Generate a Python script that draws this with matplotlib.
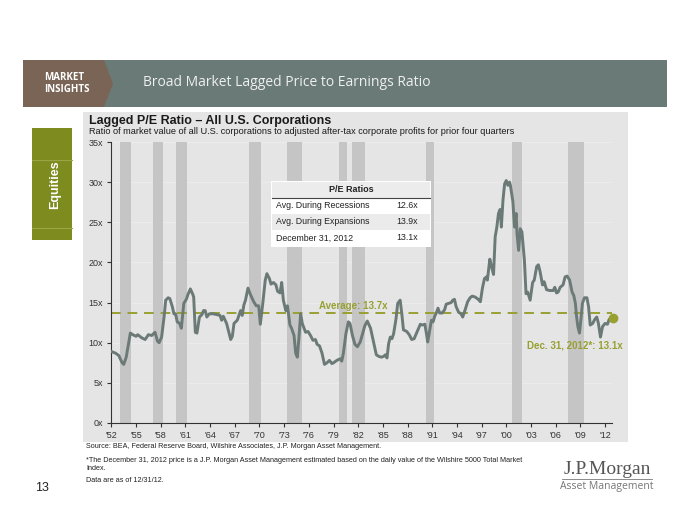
import numpy as np
import matplotlib
matplotlib.use('Agg')
from matplotlib import pyplot as plt
from matplotlib.patches import Rectangle, Polygon

plt.rcParams['font.family'] = ['Liberation Sans', 'DejaVu Sans']

# lagged P/E (decimal year, ratio)
years = [1952.0, 1952.5, 1952.9, 1953.3, 1953.5, 1953.8, 1954.3, 1954.6, 1955.0, 1955.2,
         1955.7, 1956.1, 1956.5, 1956.9, 1957.3, 1957.6, 1957.8, 1958.1, 1958.4, 1958.6,
         1958.9, 1959.1, 1959.4, 1959.6, 1959.8, 1960.0, 1960.3, 1960.5, 1960.8, 1961.1,
         1961.3, 1961.6, 1961.9, 1962.0, 1962.2, 1962.4, 1962.7, 1963.0, 1963.2, 1963.4,
         1963.6, 1963.9, 1964.4, 1964.8, 1965.2, 1965.4, 1965.6, 1966.0, 1966.5, 1966.7,
         1966.9, 1967.3, 1967.7, 1967.9, 1968.1, 1968.3, 1968.6, 1968.9, 1969.3, 1969.6,
         1969.9, 1970.1, 1970.4, 1970.7, 1970.9, 1971.2, 1971.4, 1971.7, 1972.0, 1972.2,
         1972.5, 1972.7, 1972.9, 1973.2, 1973.4, 1973.7, 1973.9, 1974.2, 1974.4, 1974.6,
         1974.8, 1975.0, 1975.2, 1975.6, 1975.9, 1976.2, 1976.5, 1976.8, 1977.0, 1977.3,
         1977.6, 1977.9, 1978.2, 1978.5, 1978.8, 1979.0, 1979.4, 1979.8, 1980.0, 1980.2,
         1980.5, 1980.8, 1981.0, 1981.3, 1981.6, 1981.9, 1982.25, 1982.5, 1982.8, 1983.1,
         1983.5, 1983.9, 1984.2, 1984.5, 1984.8, 1985.1, 1985.3, 1985.5, 1985.7, 1985.9,
         1986.1, 1986.3, 1986.6, 1986.8, 1987.1, 1987.3, 1987.5, 1987.9, 1988.2, 1988.5,
         1988.8, 1989.25, 1989.55, 1989.8, 1990.1, 1990.3, 1990.45, 1990.7, 1990.9, 1991.1,
         1991.3, 1991.45, 1991.7, 1991.9, 1992.2, 1992.5, 1992.7, 1993.0, 1993.3, 1993.5,
         1993.7, 1993.9, 1994.2, 1994.5, 1994.7, 1995.0, 1995.3, 1995.6, 1995.85, 1996.2,
         1996.6, 1996.85, 1997.1, 1997.35, 1997.6, 1997.7, 1998.0, 1998.2, 1998.45, 1998.65,
         1998.85, 1999.05, 1999.25, 1999.4, 1999.6, 1999.8, 2000.0, 2000.2, 2000.4, 2000.5,
         2000.8, 2001.0, 2001.2, 2001.3, 2001.5, 2001.7, 2001.9, 2002.2, 2002.4, 2002.6,
         2002.9, 2003.2, 2003.4, 2003.7, 2003.9, 2004.1, 2004.4, 2004.6, 2004.9, 2005.3,
         2005.7, 2005.9, 2006.1, 2006.3, 2006.55, 2006.9, 2007.15, 2007.4, 2007.7, 2008.0,
         2008.2, 2008.4, 2008.55, 2008.7, 2008.9, 2009.1, 2009.25, 2009.5, 2009.8, 2010.0,
         2010.2, 2010.5, 2010.75, 2011.0, 2011.2, 2011.45, 2011.7, 2012.0, 2012.3, 2012.5,
         2012.75, 2013.0]
pe = [8.9, 8.7, 8.4, 7.5, 7.3, 8.2, 11.2, 11.0, 10.8, 11.0,
      10.6, 10.4, 11.0, 10.9, 11.3, 10.2, 10.0, 10.7, 13.2, 15.3,
      15.6, 15.5, 14.5, 13.6, 13.6, 12.6, 12.4, 11.8, 14.9, 15.4,
      16.0, 16.7, 16.0, 15.7, 11.3, 11.2, 13.2, 13.5, 14.0, 14.0,
      13.2, 13.6, 13.6, 13.5, 13.4, 12.8, 13.3, 12.4, 10.4, 10.8,
      12.4, 12.8, 14.0, 13.4, 14.7, 15.3, 16.8, 16.0, 15.1, 14.6,
      14.6, 12.3, 14.9, 17.8, 18.6, 18.0, 17.3, 17.5, 17.2, 16.4,
      16.2, 17.5, 15.3, 14.0, 14.6, 12.2, 11.8, 10.9, 8.7, 8.2,
      10.7, 13.6, 12.4, 11.3, 11.4, 10.9, 10.3, 10.4, 9.8, 9.6,
      8.7, 7.3, 7.5, 7.8, 7.4, 7.5, 7.8, 8.0, 7.7, 8.7,
      11.1, 12.6, 12.4, 10.9, 9.8, 9.5, 10.1, 11.0, 12.1, 12.7,
      11.8, 9.9, 8.5, 8.3, 8.2, 8.3, 8.5, 8.1, 9.9, 10.7,
      10.5, 11.1, 13.0, 14.9, 15.3, 13.6, 11.6, 11.4, 11.0, 10.4,
      10.5, 11.6, 12.3, 12.2, 12.3, 11.1, 10.1, 11.6, 12.8, 12.6,
      13.3, 13.6, 14.3, 13.7, 13.7, 14.1, 14.8, 14.9, 15.0, 15.3,
      15.4, 14.5, 13.8, 13.6, 13.2, 14.1, 15.1, 15.6, 15.8, 15.7,
      15.4, 15.1, 16.8, 18.0, 18.2, 17.8, 20.4, 19.5, 18.5, 23.2,
      24.4, 26.1, 26.6, 24.4, 27.8, 29.8, 30.2, 29.6, 30.0, 29.6,
      27.6, 24.4, 26.1, 23.6, 21.5, 24.2, 23.8, 20.3, 16.1, 16.3,
      15.3, 17.5, 17.8, 19.5, 19.7, 18.9, 17.2, 17.6, 16.6, 16.5,
      16.5, 16.9, 16.2, 16.3, 16.9, 17.2, 18.2, 18.3, 17.8, 16.3,
      15.9, 14.9, 13.2, 12.0, 11.2, 13.2, 14.9, 15.6, 15.6, 14.5,
      12.2, 12.4, 12.9, 13.2, 12.4, 10.7, 12.0, 12.4, 12.3, 12.9,
      13.1, 13.1]

# recession shading (start, end)
recessions = [(1953.1, 1954.4), (1957.1, 1958.3), (1959.9, 1961.15), (1968.7, 1970.15),
              (1973.4, 1975.15), (1979.7, 1980.6), (1981.25, 1982.85), (1990.2, 1991.2),
              (2000.75, 2001.95), (2007.5, 2009.45)]

average = 13.7
latest = 13.1
xticks = list(range(1952, 2013, 3))
xlabels = ["'{:02d}".format(y % 100) for y in xticks]
yticks = list(range(0, 36, 5))
ylabels = ['{}x'.format(v) for v in yticks]

table_rows = [('Avg. During Recessions', '12.6x'),
              ('Avg. During Expansions', '13.9x'),
              ('December 31, 2012', '13.1x')]

W, H = 700, 525
line_color = '#6b7a77'
olive = '#98a032'


def fx(px):
    return px / W


def fy(py):
    return 1 - py / H


fig = plt.figure(figsize=(7, 5.25), dpi=100)
fig.patch.set_facecolor('white')

# header band
fig.patches.append(Rectangle((fx(23), fy(107)), fx(667) - fx(23), fy(60) - fy(107),
                             transform=fig.transFigure, facecolor='#6a7a76', edgecolor='none'))
fig.patches.append(Polygon([(fx(23), fy(60)), (fx(104), fy(60)), (fx(113), fy(83.5)),
                            (fx(104), fy(107)), (fx(23), fy(107))],
                           closed=True, transform=fig.transFigure, facecolor='#7a6456', edgecolor='none'))
fig.text(fx(44), fy(77), 'MARKET', color='white', fontsize=7, fontweight='bold',
         family=['Open Sans', 'DejaVu Sans'], va='center')
fig.text(fx(44), fy(89), 'INSIGHTS', color='white', fontsize=7, fontweight='bold',
         family=['Open Sans', 'DejaVu Sans'], va='center')
fig.text(fx(143), fy(83), 'Broad Market Lagged Price to Earnings Ratio', color='#eef0ee',
         fontsize=10, family=['Open Sans', 'DejaVu Sans'], va='center')

# side tab
fig.patches.append(Rectangle((fx(32), fy(240)), fx(40), fy(128) - fy(240),
                             transform=fig.transFigure, facecolor='#7e8b1f', edgecolor='none'))
for yy in (160, 228):
    fig.lines.append(plt.Line2D([fx(32), fx(72)], [fy(yy), fy(yy)], transform=fig.transFigure,
                                color='#9aa546', lw=0.8))
fig.text(fx(55), fy(185), 'Equities', color='white', fontsize=9, fontweight='bold',
         rotation=90, ha='center', va='center')

# chart background (behind the axes)
fig.patches.append(Rectangle((fx(83), fy(442)), fx(628) - fx(83), fy(112) - fy(442),
                             transform=fig.transFigure, facecolor='#e4e5e4', edgecolor='none',
                             zorder=-1))

fig.text(fx(89), fy(121), 'Lagged P/E Ratio \u2013 All U.S. Corporations', fontsize=9,
         fontweight='bold', color='#1a1a1a', va='center')
fig.text(fx(89), fy(132), 'Ratio of market value of all U.S. corporations to adjusted after-tax '
         'corporate profits for prior four quarters', fontsize=6.6, color='#1a1a1a', va='center')

ax = fig.add_axes([fx(111), fy(423), fx(612) - fx(111), fy(142) - fy(423)])
ax.set_facecolor('none')
ax.set_zorder(2)

for s, e in recessions:
    ax.axvspan(s, e, color='#c5c5c5', lw=0, zorder=1)

for v in yticks[1:]:
    ax.axhline(v, color='#ececec', lw=0.7, zorder=0.5)

ax.axhline(average, color=olive, lw=1.4, dashes=(5, 3.5), zorder=2)
ax.plot(years, pe, color=line_color, lw=2.1, zorder=3, solid_joinstyle='round')
ax.plot([years[-1]], [latest], 'o', color=olive, ms=6, zorder=4, clip_on=False)

ax.text(1981.4, average + 0.3, 'Average: 13.7x', color=olive, fontsize=7, fontweight='bold',
        ha='center', va='bottom', zorder=5)
ax.text(2014.1, 9.6, 'Dec. 31, 2012*: 13.1x', color=olive, fontsize=7, fontweight='bold',
        ha='right', va='center', clip_on=False, zorder=5)

ax.set_xlim(1951.95, 2012.85)
ax.set_ylim(0, 35)
ax.set_xticks(xticks)
ax.set_xticklabels(xlabels)
ax.set_yticks(yticks)
ax.set_yticklabels(ylabels)
for side in ('top', 'right'):
    ax.spines[side].set_visible(False)
for side in ('left', 'bottom'):
    ax.spines[side].set_color('#333333')
    ax.spines[side].set_linewidth(0.8)
ax.tick_params(axis='both', labelsize=6.5, colors='#333333', length=3, width=0.8, pad=3)

# P/E table, drawn on top of the axes
tx0, tx1 = 272, 430
rows_y = [182, 198, 214, 230, 246]
fig.patches.append(Rectangle((fx(tx0 - 1), fy(rows_y[-1] + 1)), fx(tx1 - tx0 + 2),
                             fy(rows_y[0] - 1) - fy(rows_y[-1] + 1),
                             transform=fig.transFigure, facecolor='white', edgecolor='none', zorder=5))
fills = ['#ececec', 'white', '#ebebeb', 'white']
for i, c in enumerate(fills):
    fig.patches.append(Rectangle((fx(tx0), fy(rows_y[i + 1])), fx(tx1 - tx0),
                                 fy(rows_y[i]) - fy(rows_y[i + 1]),
                                 transform=fig.transFigure, facecolor=c, edgecolor='none', zorder=6))
fig.lines.append(plt.Line2D([fx(tx0), fx(tx1)], [fy(198), fy(198)], transform=fig.transFigure,
                            color='#444444', lw=0.8, zorder=7))
fig.text(fx((tx0 + tx1) / 2), fy(190), 'P/E Ratios', fontsize=6.5, fontweight='bold',
         ha='center', va='center', zorder=8, color='#222222')
for i, (name, val) in enumerate(table_rows):
    yc = (rows_y[i + 1] + rows_y[i + 2]) / 2
    fig.text(fx(276), fy(yc), name, fontsize=6.3, ha='left', va='center', zorder=8, color='#222222')
    fig.text(fx(418), fy(yc), val, fontsize=6.3, ha='right', va='center', zorder=8, color='#222222')

# footnotes
fig.text(fx(86), fy(447), 'Source: BEA, Federal Reserve Board, Wilshire Associates, '
         'J.P. Morgan Asset Management.', fontsize=5.2, va='center', color='#222222')
fig.text(fx(86), fy(460), '*The December 31, 2012 price is a J.P. Morgan Asset Management estimated '
         'based on the daily value of the Wilshire 5000 Total Market', fontsize=5.2, va='center',
         color='#222222')
fig.text(fx(86), fy(469), 'Index.', fontsize=5.2, va='center', color='#222222')
fig.text(fx(86), fy(480), 'Data are as of 12/31/12.', fontsize=5.2, va='center', color='#222222')

fig.text(fx(42), fy(488), '13', fontsize=9, ha='center', va='center', color='#222222')

# logo
fig.text(fx(607), fy(469), 'J.P.Morgan', fontsize=14, family=['Liberation Serif', 'DejaVu Serif'],
         ha='center', va='center', color='#555555')
fig.lines.append(plt.Line2D([fx(562), fx(652)], [fy(479), fy(479)], transform=fig.transFigure,
                            color='#777777', lw=0.6))
fig.text(fx(607), fy(487), 'Asset Management', fontsize=7.5, family=['Open Sans', 'DejaVu Sans'],
         ha='center', va='center', color='#777777')

fig.savefig('out.png', dpi=100)
